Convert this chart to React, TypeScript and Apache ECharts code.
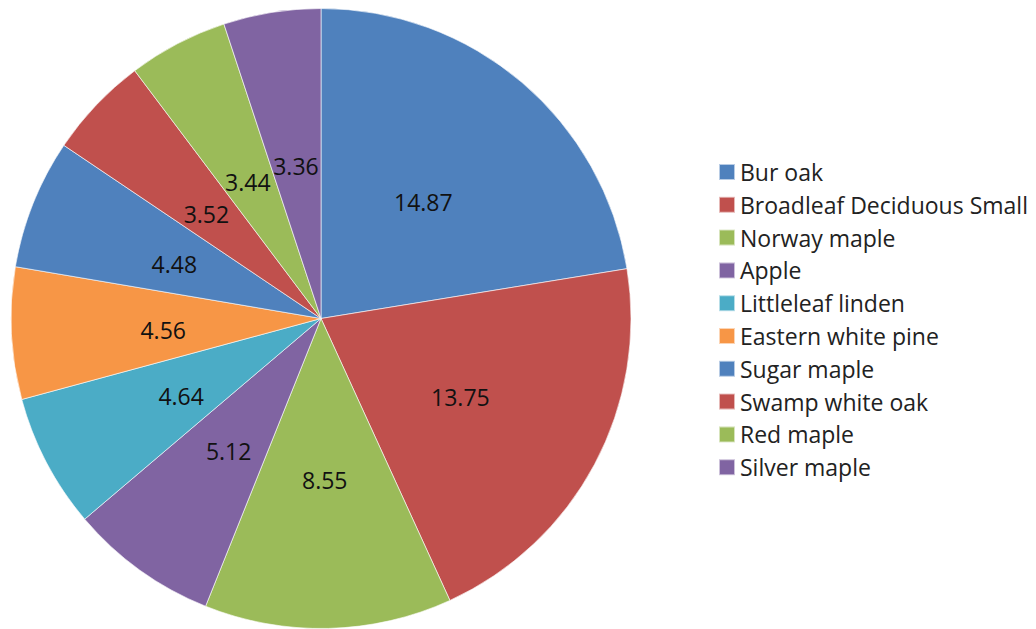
import React, { useEffect, useRef } from "react";
import * as echarts from "echarts";

const categories = [
  "Bur oak",
  "Broadleaf Deciduous Small",
  "Norway maple",
  "Apple",
  "Littleleaf linden",
  "Eastern white pine",
  "Sugar maple",
  "Swamp white oak",
  "Red maple",
  "Silver maple",
];
const values = [14.87, 13.75, 8.55, 5.12, 4.64, 4.56, 4.48, 3.52, 3.44, 3.36];
const colors = [
  "#4F81BD",
  "#C0504D",
  "#9BBB59",
  "#8064A2",
  "#4BACC6",
  "#F79646",
  "#4F81BD",
  "#C0504D",
  "#9BBB59",
  "#8064A2",
];

export default function App() {
  const ref = useRef<HTMLDivElement>(null);
  useEffect(() => {
    if (!ref.current) return;
    const chart = echarts.init(ref.current, null, { renderer: "svg" });
    const font = "'Open Sans', 'Noto Sans', sans-serif";
    chart.setOption({
      animation: false,
      color: colors,
      legend: {
        orient: "vertical",
        left: 718,
        top: 160.5,
        padding: 0,
        itemWidth: 16,
        itemHeight: 16,
        itemGap: 9.8,
        icon: "rect",
        textStyle: {
          fontFamily: font,
          fontSize: 23,
          lineHeight: 23,
          color: "#222",
          padding: [0, 0, 0, 0],
        },
        data: categories,
      },
      series: [
        {
          type: "pie",
          center: [321, 318.5],
          radius: 310,
          startAngle: 90,
          clockwise: true,
          avoidLabelOverlap: false,
          itemStyle: {
            borderColor: "rgba(255,255,255,0.6)",
            borderWidth: 1,
          },
          label: {
            show: true,
            position: "inside",
            formatter: (p: any) => p.value.toFixed(2),
            fontFamily: font,
            fontSize: 23,
            color: "#111",
            offset: [0, 4],
          },
          labelLine: { show: false },
          emphasis: { disabled: true },
          data: categories.map((name, i) => ({ name, value: values[i] })),
        },
      ],
    });
    return () => chart.dispose();
  }, []);
  return (
    <div
      ref={ref}
      style={{ position: "fixed", left: 0, top: 0, width: 1036, height: 629, background: "#fff" }}
    />
  );
}
